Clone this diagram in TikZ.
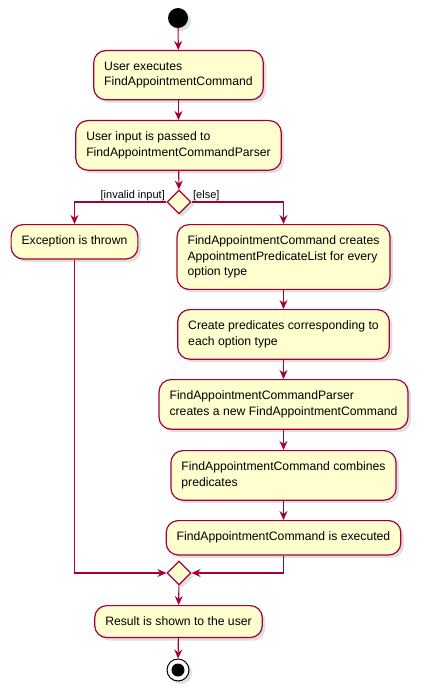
\documentclass[tikz,border=0pt]{standalone}
\usepackage{fontspec}
\setmainfont{Liberation Sans}
\usetikzlibrary{shapes.geometric,arrows.meta,shadows}
\definecolor{umlred}{HTML}{A80036}
\definecolor{umlfill}{HTML}{FEFECE}

\begin{document}
\begin{tikzpicture}[x=1pt,y=-1pt,
    umlshadow/.style={drop shadow={shadow xshift=3pt,shadow yshift=-3pt,opacity=0.25}},
    action/.style={draw=umlred,fill=umlfill,line width=1.2pt,rounded corners=12pt,
        align=left,anchor=north,inner xsep=10.5pt,inner ysep=11.5pt,
        font=\fontsize{12.2}{15.2}\selectfont,umlshadow},
    branch/.style={diamond,draw=umlred,fill=umlfill,line width=1.2pt,
        minimum size=24pt,inner sep=0pt,umlshadow},
    flow/.style={draw=umlred,line width=1.1pt,-{Stealth[length=9pt,width=8pt,inset=3pt]}},
    guard/.style={font=\fontsize{11}{13}\selectfont,inner sep=1pt}]
    \useasboundingbox (0,0) rectangle (425,698);

    % start and the first two steps
    \node [circle,fill=black,minimum size=20pt,inner sep=0pt,umlshadow] (start) at (178,18) {};
    \node [action] (exec)  at (178.5,50)  {User executes\\FindAppointmentCommand};
    \node [action] (parse) at (178.5,120) {User input is passed to\\FindAppointmentCommandParser};
    \node [branch] (split) at (179,202) {};

    % the two branches
    \node [action] (thrown)  at (74.5,224)  {Exception is thrown};
    \node [action] (lists)   at (283.5,224) {FindAppointmentCommand creates\\AppointmentPredicateList for every\\option type};
    \node [action] (preds)   at (283.5,309) {Create predicates corresponding to\\each option type};
    \node [action] (newcmd)  at (283.5,379) {FindAppointmentCommandParser\\creates a new FindAppointmentCommand};
    \node [action] (combine) at (283.5,450) {FindAppointmentCommand combines\\predicates};
    \node [action] (run)     at (283.5,520) {FindAppointmentCommand is executed};

    % merge and end
    \node [branch] (merge)  at (179,573) {};
    \node [action] (result) at (178.5,605) {Result is shown to the user};
    \node [circle,draw=black,fill=white,line width=1pt,minimum size=22pt,inner sep=0pt,umlshadow] (stop) at (178,670) {};
    \fill [black] (stop.center) circle (6.5pt);

    \draw [flow] (start) -- (exec);
    \draw [flow] (exec) -- (parse);
    \draw [flow] (parse) -- (split);
    \draw [flow] (split.west) node [guard,above left] {[invalid input]} -| (thrown.north);
    \draw [flow] (split.east) node [guard,above right] {[else]} -| (lists.north);
    \draw [flow] (lists) -- (preds);
    \draw [flow] (preds) -- (newcmd);
    \draw [flow] (newcmd) -- (combine);
    \draw [flow] (combine) -- (run);
    \draw [flow] (thrown.south) |- (merge.west);
    \draw [flow] (run.south) |- (merge.east);
    \draw [flow] (merge) -- (result);
    \draw [flow] (result) -- (stop);
\end{tikzpicture}
\end{document}
